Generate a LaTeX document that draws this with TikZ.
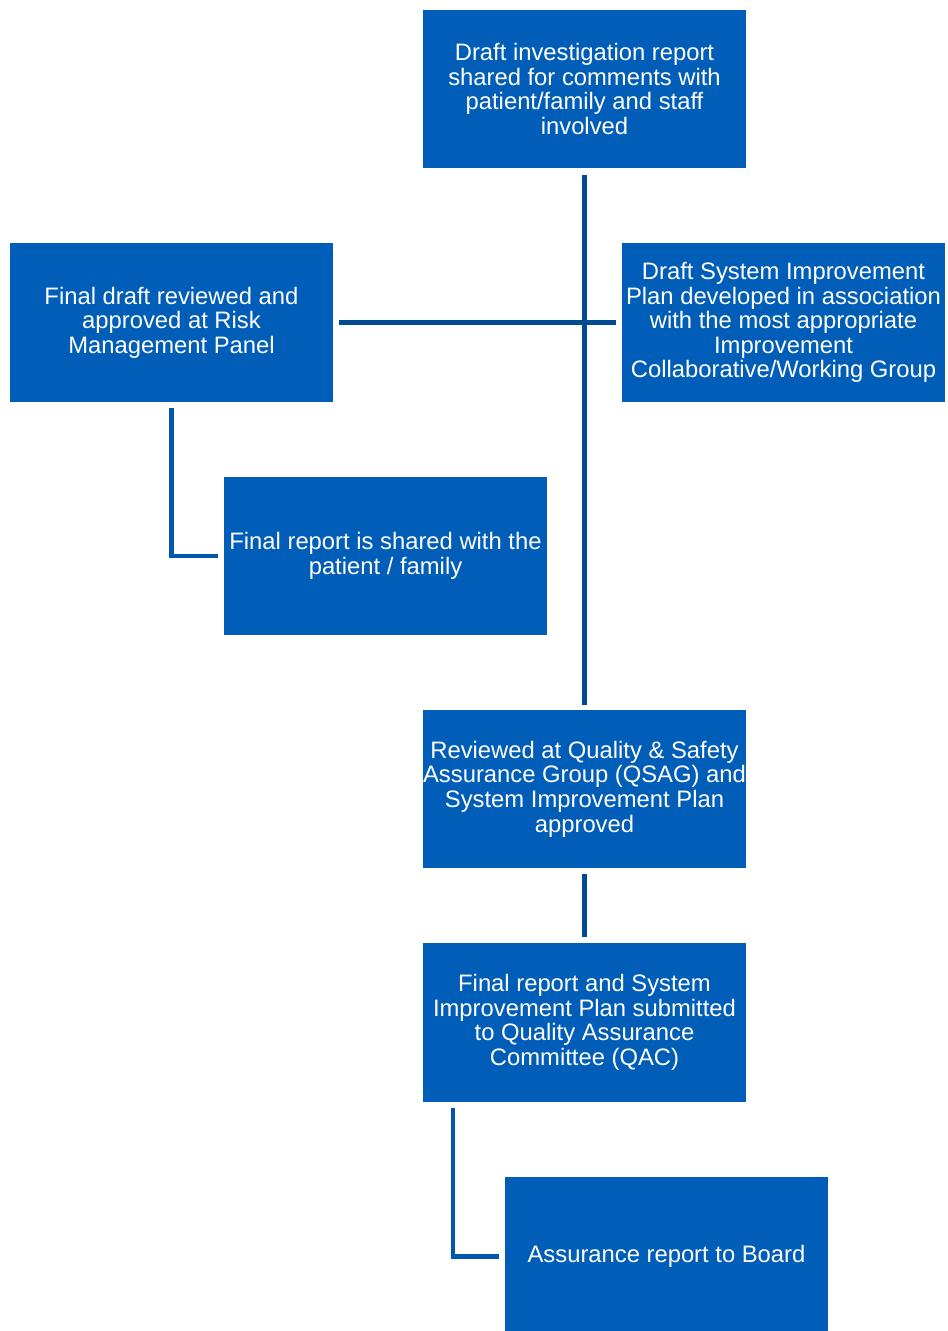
\documentclass[tikz,border=0pt]{standalone}
\usepackage{fontspec}
\setmainfont{Liberation Sans}
\definecolor{boxblue}{HTML}{005EB8}
\definecolor{linedark}{HTML}{004A93}
\definecolor{linemid}{HTML}{0057AE}
\begin{document}
\begin{tikzpicture}[x=1pt,y=-1pt,
  box/.style={fill=boxblue, text=white, inner sep=0pt, align=center,
    minimum width=323pt, minimum height=158.5pt,
    font=\fontsize{23.8}{24.6}\selectfont},
  mainline/.style={draw=linedark, line width=5pt},
  sideline/.style={draw=linemid, line width=4.5pt}]
\useasboundingbox (0,0) rectangle (948,1331);
\node[box] (d1) at (584.5,89) {Draft investigation report\\shared for comments with\\patient/family and staff\\involved};
\node[box] (fd) at (171.5,322.5) {Final draft reviewed and\\approved at Risk\\Management Panel};
\node[box] (sip) at (783.5,322.5) {Draft System Improvement\\Plan developed in association\\with the most appropriate\\Improvement\\Collaborative/Working Group};
\node[box] (fr) at (385.5,556) {Final report is shared with the\\patient / family};
\node[box] (q) at (584.5,789) {Reviewed at Quality \& Safety\\Assurance Group (QSAG) and\\System Improvement Plan\\approved};
\node[box] (f) at (584.5,1022.5) {Final report and System\\Improvement Plan submitted\\to Quality Assurance\\Committee (QAC)};
\node[box] (a) at (666.5,1256.5) {Assurance report to Board};

\draw[mainline] ([yshift=-7pt]d1.south) -- ([yshift=5pt]q.north);
\draw[mainline] ([xshift=6pt]fd.east) -- ([xshift=-6pt]sip.west);
\draw[sideline] ([yshift=-6pt]fd.south) |- ([xshift=-6pt]fr.west);
\draw[mainline] ([yshift=-6pt]q.south) -- ([yshift=6pt]f.north);
\draw[sideline] ([xshift=30pt,yshift=-6pt]f.south west) |- ([xshift=-6pt]a.west);
\end{tikzpicture}
\end{document}
